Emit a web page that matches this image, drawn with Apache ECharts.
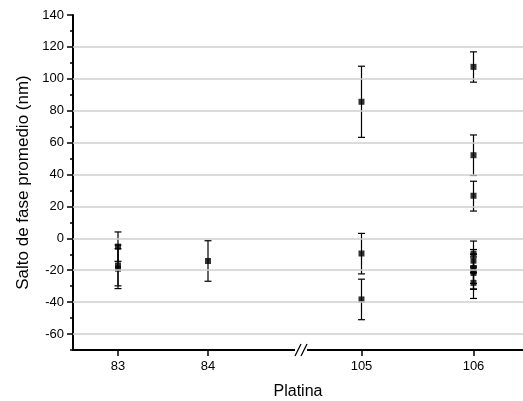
<!DOCTYPE html>
<html>
<head>
<meta charset="utf-8">
<script src="https://cdn.jsdelivr.net/npm/echarts@6/dist/echarts.min.js"></script>
<style>html,body{margin:0;padding:0;background:#fff}#c{width:523px;height:401px}</style>
</head>
<body>
<div id="c"></div>
<script>
// Data
var platina   = [83, 83, 83, 84, 105, 105, 105, 106, 106, 106, 106, 106, 106, 106, 106, 106];
var meanPhase = [-5.2, -17, -19, -14.2, 85.6, -9.5, -38.3, 107.5, 52.1, 26.7, -9.6, -14, -18.8, -20.6, -21.7, -27.9];
var errLow    = [9.2, 12.8, 12.5, 12.7, 22.3, 12.8, 12.7, 9.6, 12.7, 9.6, 7.7, 7.5, 9.5, 11.4, 10, 9.8];
var errHigh   = [9.2, 12.8, 12.5, 12.7, 22.3, 12.6, 12.7, 9.4, 12.7, 9.1, 7.9, 7.0, 9.0, 10.5, 10, 9.8];
var xTicksLeft  = [83, 84];
var xTicksRight = [105, 106];
var yTicks = [-60, -40, -20, 0, 20, 40, 60, 80, 100, 120, 140];
var yMinorTicks = [-70, -50, -30, -10, 10, 30, 50, 70, 90, 110, 130];
var yGridLines = [-60, -40, -20, 0, 20, 40, 60, 80, 100, 120];

function pick(inRight) {
  var pts = [], bars = [];
  for (var i = 0; i < platina.length; i++) {
    var right = platina[i] > 90;
    if (right !== inRight) continue;
    pts.push([platina[i], meanPhase[i]]);
    bars.push([platina[i], meanPhase[i] - errLow[i], meanPhase[i] + errHigh[i]]);
  }
  return {pts: pts, bars: bars};
}
var L = pick(false), R = pick(true);

function renderErr(params, api) {
  var x = api.value(0);
  var lo = api.coord([x, api.value(1)]);
  var hi = api.coord([x, api.value(2)]);
  var hw = 3.5;
  var st = {stroke: '#000', lineWidth: 1.2};
  return {
    type: 'group',
    children: [
      {type: 'line', shape: {x1: lo[0], y1: lo[1], x2: hi[0], y2: hi[1]}, style: st},
      {type: 'line', shape: {x1: lo[0] - hw, y1: lo[1], x2: lo[0] + hw, y2: lo[1]}, style: st},
      {type: 'line', shape: {x1: hi[0] - hw, y1: hi[1], x2: hi[0] + hw, y2: hi[1]}, style: st}
    ]
  };
}

var font = 'Liberation Sans, Arial, sans-serif';
var gridTop = 15, gridBottom = 51, breakX = 302;

function yAxisMain(idx, show) {
  return {
    type: 'value', gridIndex: idx, min: -70, max: 140, interval: 10,
    axisLine: {show: show, onZero: false, lineStyle: {color: '#000', width: 2}},
    axisTick: {show: show, length: 6, customValues: yTicks, lineStyle: {color: '#000', width: 1.5}},
    axisLabel: {show: show, customValues: yTicks, margin: 9, color: '#000', fontFamily: font, fontSize: 13},
    splitLine: {show: false},
    name: show ? 'Salto de fase promedio (nm)' : '',
    nameLocation: 'middle', nameGap: 41, nameRotate: 90,
    nameTextStyle: {color: '#000', fontFamily: font, fontSize: 17}
  };
}
function yAxisMinor(idx) {
  return {
    type: 'value', gridIndex: idx, min: -70, max: 140, interval: 10, position: 'left',
    axisLine: {show: false, onZero: false},
    axisTick: {show: true, length: 3, customValues: yMinorTicks, lineStyle: {color: '#000', width: 1.5}},
    axisLabel: {show: false},
    splitLine: {show: false}
  };
}

var gridLineStyle = {color: '#cfcfcf', width: 1.5, type: 'solid'};
function gridLineSeries(xi, yi) {
  return {
    type: 'line', xAxisIndex: xi, yAxisIndex: yi, data: [], z: 1, silent: true,
    markLine: {
      silent: true, symbol: ['none', 'none'], animation: false,
      label: {show: false}, lineStyle: gridLineStyle,
      data: yGridLines.map(function (v) { return {yAxis: v}; })
    }
  };
}

var option = {
  animation: false,
  backgroundColor: '#fff',
  grid: [
    {left: 73, top: gridTop, width: breakX - 73, bottom: gridBottom},
    {left: breakX, top: gridTop, right: 0, bottom: gridBottom}
  ],
  xAxis: [
    {
      type: 'value', gridIndex: 0, min: 82.5, max: 82.5 + (breakX - 73) / 90,
      axisLine: {show: true, onZero: false, lineStyle: {color: '#000', width: 2}},
      axisTick: {show: true, customValues: xTicksLeft, length: 6, lineStyle: {color: '#000', width: 1.5}},
      axisLabel: {customValues: xTicksLeft, margin: 10, color: '#000', fontFamily: font, fontSize: 13},
      splitLine: {show: false}
    },
    {
      type: 'value', gridIndex: 1, min: 105 - (361.5 - breakX) / 112, max: 105 + (523 - 361.5) / 112,
      axisLine: {show: true, onZero: false, lineStyle: {color: '#000', width: 2}},
      axisTick: {show: true, customValues: xTicksRight, length: 6, lineStyle: {color: '#000', width: 1.5}},
      axisLabel: {customValues: xTicksRight, margin: 10, color: '#000', fontFamily: font, fontSize: 13},
      splitLine: {show: false}
    }
  ],
  yAxis: [yAxisMain(0, true), yAxisMain(1, false), yAxisMinor(0)],
  series: [
    gridLineSeries(0, 0),
    gridLineSeries(1, 1),
    {type: 'custom', xAxisIndex: 0, yAxisIndex: 0, renderItem: renderErr, data: L.bars, encode: {x: 0, y: [1, 2]}, z: 3},
    {type: 'custom', xAxisIndex: 1, yAxisIndex: 1, renderItem: renderErr, data: R.bars, encode: {x: 0, y: [1, 2]}, z: 3},
    {type: 'scatter', xAxisIndex: 0, yAxisIndex: 0, data: L.pts, symbol: 'rect', symbolSize: 6, itemStyle: {color: '#000'}, z: 4},
    {type: 'scatter', xAxisIndex: 1, yAxisIndex: 1, data: R.pts, symbol: 'rect', symbolSize: 6, itemStyle: {color: '#000'}, z: 4}
  ],
  graphic: [
    {type: 'rect', shape: {x: 295, y: 346, width: 12, height: 8}, style: {fill: '#fff'}, z: 100},
    {type: 'line', shape: {x1: 295, y1: 356, x2: 301, y2: 344}, style: {stroke: '#000', lineWidth: 1.3}, z: 101},
    {type: 'line', shape: {x1: 301, y1: 356, x2: 307, y2: 344}, style: {stroke: '#000', lineWidth: 1.3}, z: 101},
    {type: 'text', x: 298, y: 392, style: {text: 'Platina', fill: '#000', font: '16px ' + font, align: 'center', verticalAlign: 'middle'}}
  ]
};
echarts.init(document.getElementById('c')).setOption(option);
</script>
</body>
</html>
